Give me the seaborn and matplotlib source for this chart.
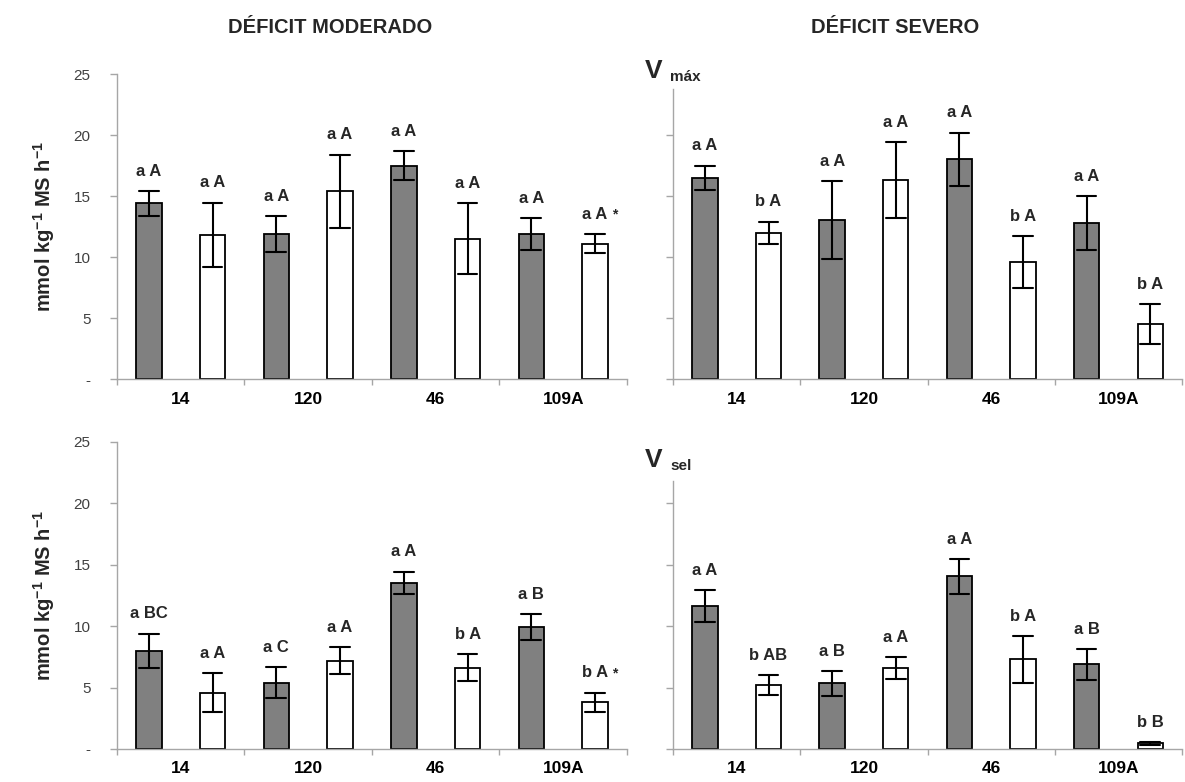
import numpy as np
import pandas as pd
import matplotlib
matplotlib.use("Agg")
import matplotlib.pyplot as plt
import seaborn as sns

sns.set_theme(style="white")
plt.rcParams['font.family'] = ['Liberation Sans', 'DejaVu Sans']
plt.rcParams['mathtext.fontset'] = 'custom'
plt.rcParams['mathtext.rm'] = 'Liberation Sans:bold'
plt.rcParams['mathtext.bf'] = 'Liberation Sans:bold'


porta = ["14", "120", "46", "109A"]
trat = ["Controle", "Déficit"]

'''Vmax - deficit moderado'''
vmax_mod_ctrl = [14.4, 11.9, 17.5, 11.9]
vmax_mod_ctrl_err = [1.0, 1.45, 1.2, 1.3]
vmax_mod_def = [11.8, 15.4, 11.5, 11.1]
vmax_mod_def_err = [2.65, 3.0, 2.9, 0.8]
vmax_mod_letras = ["a A", "a A", "a A", "a A", "a A", "a A", "a A", "a A *"]

'''Vmax - deficit severo'''
vmax_sev_ctrl = [16.5, 13.0, 18.0, 12.8]
vmax_sev_ctrl_err = [1.0, 3.2, 2.2, 2.2]
vmax_sev_def = [12.0, 16.3, 9.6, 4.5]
vmax_sev_def_err = [0.9, 3.1, 2.1, 1.65]
vmax_sev_letras = ["a A", "b A", "a A", "a A", "a A", "b A", "a A", "b A"]

'''Vsel - deficit moderado'''
vsel_mod_ctrl = [8.0, 5.4, 13.55, 9.95]
vsel_mod_ctrl_err = [1.4, 1.25, 0.9, 1.05]
vsel_mod_def = [4.6, 7.2, 6.6, 3.8]
vsel_mod_def_err = [1.6, 1.1, 1.1, 0.8]
vsel_mod_letras = ["a BC", "a A", "a C", "a A", "a A", "b A", "a B", "b A *"]

'''Vsel - deficit severo'''
vsel_sev_ctrl = [11.65, 5.35, 14.05, 6.9]
vsel_sev_ctrl_err = [1.3, 1.0, 1.4, 1.25]
vsel_sev_def = [5.2, 6.6, 7.3, 0.45]
vsel_sev_def_err = [0.8, 0.9, 1.9, 0.1]
vsel_sev_letras = ["a A", "b AB", "a B", "a A", "a A", "b A", "a B", "b B"]


def tabela(ctrl, ctrl_err, defi, defi_err):
    # two rows per bar (mean - err, mean + err): mean gives the bar, min/max the error bar
    linhas = []
    for p, m, e in zip(porta, ctrl, ctrl_err):
        linhas += [(p, trat[0], m - e), (p, trat[0], m + e)]
    for p, m, e in zip(porta, defi, defi_err):
        linhas += [(p, trat[1], m - e), (p, trat[1], m + e)]
    return pd.DataFrame(linhas, columns=["porta", "trat", "valor"])


def painel(ax, df, letras, esquerda, topo_eixo):
    sns.barplot(data=df, x="porta", y="valor", hue="trat", order=porta, hue_order=trat,
                palette={trat[0]: "#808080", trat[1]: "white"},
                estimator="mean", errorbar=("pi", 100), capsize=0.31,
                err_kws={"color": "black", "linewidth": 1.5},
                edgecolor="black", linewidth=1.3, width=1.0, gap=0.6,
                legend=False, ax=ax)
    ax.set_xlim(-0.5, 3.5)
    ax.set_ylim(0, 25)
    ax.set_xlabel("")
    ax.set_ylabel("")

    # letters above the error bars
    barras = sorted(ax.patches, key=lambda b: b.get_x())
    topo = df.groupby(["porta", "trat"])["valor"].max()
    for b, txt in zip(barras, letras):
        cx = b.get_x() + b.get_width() / 2
        i = int(round(cx))
        t = trat[0] if cx < i else trat[1]
        y = topo[(porta[i], t)]
        base = txt.replace(" *", "")
        ax.annotate(base, xy=(cx, y), xytext=(0, 11), textcoords="offset points",
                    ha="center", va="baseline", fontsize=12, fontweight="bold")
        if txt.endswith("*"):
            ax.annotate("*", xy=(cx, y), xytext=(12, 11), textcoords="offset points",
                        ha="left", va="baseline", fontsize=10, fontweight="bold")

    for s in ["top", "right"]:
        ax.spines[s].set_visible(False)
    for s in ["left", "bottom"]:
        ax.spines[s].set_color("#a6a6a6")
        ax.spines[s].set_linewidth(1.0)

    if esquerda:
        ax.set_yticks([0, 5, 10, 15, 20, 25])
        ax.set_yticklabels(["-", "5", "10", "15", "20", "25"])
    else:
        ax.set_yticks([0, 5, 10, 15, 20])
        ax.set_yticklabels([])
        ax.spines["left"].set_bounds(0, topo_eixo)
    ax.tick_params(axis="y", length=5, width=1, color="#a6a6a6", pad=14,
                   labelsize=11, labelcolor="#404040", left=True)

    ax.set_xticks(range(len(porta)))
    ax.set_xticklabels(porta, fontweight="bold", fontsize=12.5)
    ax.set_xticks([-0.5, 0.5, 1.5, 2.5, 3.5], minor=True)
    ax.tick_params(axis="x", which="major", length=0, pad=9, labelcolor="black")
    ax.tick_params(axis="x", which="minor", length=4, width=1, color="#a6a6a6",
                   bottom=True)


fig = plt.figure(figsize=(11.85, 7.82), dpi=100)
ax1 = fig.add_axes([0.0987, 0.5153, 0.4304, 0.390])
ax2 = fig.add_axes([0.568, 0.5153, 0.4295, 0.390])
ax3 = fig.add_axes([0.0987, 0.0422, 0.4304, 0.3926])
ax4 = fig.add_axes([0.568, 0.0422, 0.4295, 0.3926])

painel(ax1, tabela(vmax_mod_ctrl, vmax_mod_ctrl_err, vmax_mod_def, vmax_mod_def_err),
       vmax_mod_letras, True, 25)
painel(ax2, tabela(vmax_sev_ctrl, vmax_sev_ctrl_err, vmax_sev_def, vmax_sev_def_err),
       vmax_sev_letras, False, 23.8)
painel(ax3, tabela(vsel_mod_ctrl, vsel_mod_ctrl_err, vsel_mod_def, vsel_mod_def_err),
       vsel_mod_letras, True, 25)
painel(ax4, tabela(vsel_sev_ctrl, vsel_sev_ctrl_err, vsel_sev_def, vsel_sev_def_err),
       vsel_sev_letras, False, 21.8)

rotulo_y = r"mmol kg$^{-1}$ MS h$^{-1}$"
for ax in [ax1, ax3]:
    ax.set_ylabel(rotulo_y, fontsize=14.5, fontweight="bold", labelpad=12)

fig.text(0.279, 0.965, "DÉFICIT MODERADO", ha="center", va="center",
         fontsize=14.5, fontweight="bold")
fig.text(0.755, 0.965, "DÉFICIT SEVERO", ha="center", va="center",
         fontsize=14.5, fontweight="bold")

fig.text(0.544, 0.900, "V", fontsize=19, fontweight="bold", va="baseline")
fig.text(0.5655, 0.896, "máx", fontsize=11, fontweight="bold", va="baseline")
fig.text(0.544, 0.403, "V", fontsize=19, fontweight="bold", va="baseline")
fig.text(0.5655, 0.399, "sel", fontsize=11, fontweight="bold", va="baseline")

fig.savefig("out.png", dpi=100)
